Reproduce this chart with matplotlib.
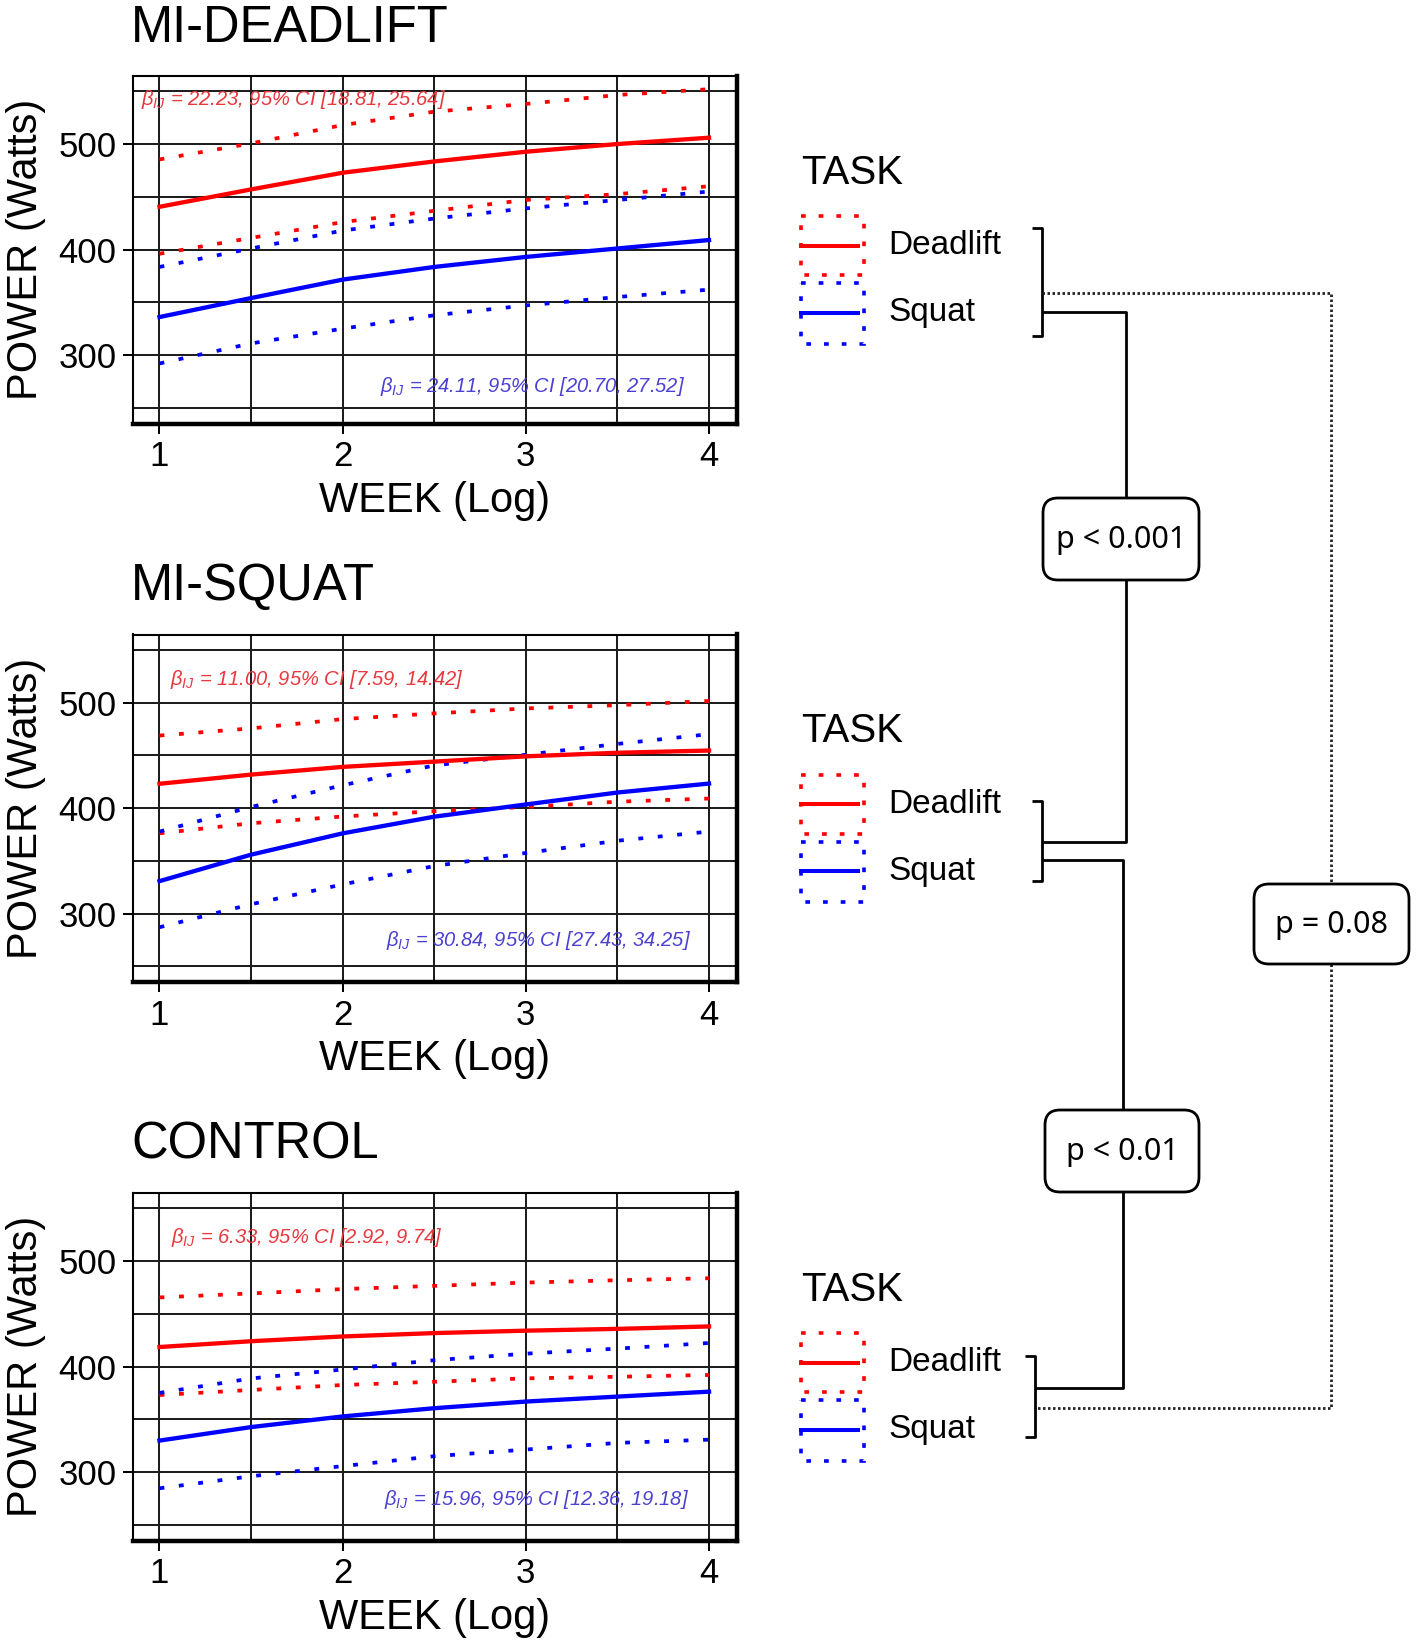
import matplotlib
matplotlib.use("Agg")
import matplotlib.pyplot as plt
from matplotlib.patches import Rectangle, FancyBboxPatch

plt.rcParams["font.family"] = ["Liberation Sans", "DejaVu Sans"]
plt.rcParams["mathtext.fontset"] = "custom"
plt.rcParams["mathtext.it"] = "Liberation Sans:italic"
plt.rcParams["mathtext.rm"] = "Liberation Sans:italic"

# ---- data ----
weeks = [1, 1.5, 2, 2.5, 3, 3.5, 4]

midl_dead_fit = [440.5, 457, 472.8, 483.5, 492.7, 500, 506]
midl_dead_hi = [485.4, 500.6, 518, 530.7, 538, 546.5, 552]
midl_dead_lo = [396, 411, 426, 436.7, 447, 452.5, 460]
midl_squat_fit = [336, 354, 371.5, 383.5, 393, 401, 409]
midl_squat_hi = [383.5, 401, 418, 429.4, 439, 447, 455]
midl_squat_lo = [292, 311, 325, 337.7, 347, 355, 362]

misq_dead_fit = [423, 431.7, 439, 444, 449, 452.4, 454.5]
misq_dead_hi = [468.7, 475.5, 484.3, 489.7, 494.4, 497.5, 501.5]
misq_dead_lo = [376, 385.6, 392, 397, 401, 406, 409]
misq_squat_fit = [330.7, 355.8, 376, 391.8, 403.4, 414.7, 423.2]
misq_squat_hi = [377.7, 401, 421.6, 440.4, 450.5, 460.8, 470]
misq_squat_lo = [287, 308.8, 327.6, 345, 357.4, 369, 377.7]

ctrl_dead_fit = [418.5, 424, 428.5, 431.7, 434, 435.7, 438]
ctrl_dead_hi = [465.5, 469.3, 473.4, 476.5, 479.6, 481.8, 483.7]
ctrl_dead_lo = [373, 377.8, 382.5, 385.6, 388.8, 390.3, 392]
ctrl_squat_fit = [329.8, 342.6, 352.7, 360.5, 366.8, 371.5, 376.2]
ctrl_squat_hi = [375, 388.7, 397.2, 406, 412.2, 417, 422.3]
ctrl_squat_lo = [284.6, 296, 305.6, 315, 321.3, 327.6, 330.7]

panel_titles = ["MI-DEADLIFT", "MI-SQUAT", "CONTROL"]
dead_labels = [
    r"$\beta_{IJ}$ = 22.23, 95% CI [18.81, 25.64]",
    r"$\beta_{IJ}$ = 11.00, 95% CI [7.59, 14.42]",
    r"$\beta_{IJ}$ = 6.33, 95% CI [2.92, 9.74]",
]
squat_labels = [
    r"$\beta_{IJ}$ = 24.11, 95% CI [20.70, 27.52]",
    r"$\beta_{IJ}$ = 30.84, 95% CI [27.43, 34.25]",
    r"$\beta_{IJ}$ = 15.96, 95% CI [12.36, 19.18]",
]
p_labels = ["p < 0.001", "p = 0.08", "p < 0.01"]

panels = [
    (midl_dead_fit, midl_dead_lo, midl_dead_hi, midl_squat_fit, midl_squat_lo, midl_squat_hi),
    (misq_dead_fit, misq_dead_lo, misq_dead_hi, misq_squat_fit, misq_squat_lo, misq_squat_hi),
    (ctrl_dead_fit, ctrl_dead_lo, ctrl_dead_hi, ctrl_squat_fit, ctrl_squat_lo, ctrl_squat_hi),
]

RED, BLUE = "#ff0000", "#0000ff"
RED_TXT, BLUE_TXT = "#e8383e", "#4b40d2"
DOT = (0, (1.3, 3.9))

W, H = 1417, 1650
fig = plt.figure(figsize=(W / 100, H / 100), dpi=100)

ax_left, ax_right, ax_hpx = 133.3, 736.5, 347.6
tops = [76, 634.5, 1193]
# text positions in axes fraction: (x_red, y_red, x_blue, y_blue)
ann_pos = [(0.012, 0.931, 0.914, 0.108), (0.061, 0.871, 0.925, 0.119), (0.063, 0.873, 0.922, 0.119)]

for i, (d_fit, d_lo, d_hi, s_fit, s_lo, s_hi) in enumerate(panels):
    top = tops[i]
    ax = fig.add_axes([ax_left / W, 1 - (top + ax_hpx) / H, (ax_right - ax_left) / W, ax_hpx / H])
    ax.set_xlim(0.857, 4.15)
    ax.set_ylim(235, 564.5)
    ax.set_xticks([1, 2, 3, 4])
    ax.set_xticks([1.5, 2.5, 3.5], minor=True)
    ax.set_yticks([300, 400, 500])
    ax.set_yticks([250, 350, 450, 550], minor=True)
    ax.set_axisbelow(True)
    ax.grid(which="both", color="#1e1e1e", linewidth=1.45)
    ax.tick_params(which="major", length=7, width=1.45, direction="out", labelsize=25, pad=5)
    ax.tick_params(which="minor", length=0)
    for side in ["left", "top"]:
        ax.spines[side].set_linewidth(1.5)
    for side in ["right", "bottom"]:
        ax.spines[side].set_linewidth(3.2)

    ax.plot(weeks, d_hi, color=RED, lw=2.7, linestyle=DOT)
    ax.plot(weeks, d_lo, color=RED, lw=2.7, linestyle=DOT)
    ax.plot(weeks, s_hi, color=BLUE, lw=2.7, linestyle=DOT)
    ax.plot(weeks, s_lo, color=BLUE, lw=2.7, linestyle=DOT)
    ax.plot(weeks, d_fit, color=RED, lw=3.1)
    ax.plot(weeks, s_fit, color=BLUE, lw=3.1)

    xr, yr, xb, yb = ann_pos[i]
    ax.text(xr, yr, dead_labels[i], transform=ax.transAxes, color=RED_TXT, fontsize=14.5,
            fontstyle="italic", ha="left", va="center")
    ax.text(xb, yb, squat_labels[i], transform=ax.transAxes, color=BLUE_TXT, fontsize=14.5,
            fontstyle="italic", ha="right", va="center")

    ax.text(-0.004, 1.098, panel_titles[i], transform=ax.transAxes, fontsize=36.5,
            ha="left", va="baseline")
    ax.set_xlabel("WEEK (Log)", fontsize=30)
    ax.xaxis.set_label_coords(0.5, -0.165)
    ax.set_ylabel("POWER (Watts)", fontsize=30)
    ax.yaxis.set_label_coords(-0.145, 0.5)

# ---- overlay in pixel units for legends and comparison brackets ----
ov = fig.add_axes([0, 0, 1, 1])
ov.set_xlim(0, W)
ov.set_ylim(H, 0)
ov.set_axis_off()

step = 558.5
key_dot = (0, (1.3, 3.6))
for k in range(3):
    dy = k * step
    ov.text(801, 173 + dy, "TASK", fontsize=29, ha="left", va="center")
    ov.add_patch(Rectangle((801, 216.4 + dy), 63, 59, fill=False, ec=RED, lw=2.6, ls=key_dot))
    ov.add_patch(Rectangle((801, 283 + dy), 63, 60.5, fill=False, ec=BLUE, lw=2.6, ls=key_dot))
    ov.plot([801, 858], [245.7 + dy, 245.7 + dy], color=RED, lw=2.9)
    ov.plot([801, 858], [312.5 + dy, 312.5 + dy], color=BLUE, lw=2.9)
    ov.text(888, 245.6 + dy, "Deadlift", fontsize=24, ha="left", va="center")
    ov.text(888, 312.8 + dy, "Squat", fontsize=24, ha="left", va="center")

solid = dict(color="black", lw=2.0, solid_capstyle="butt")
dotted = dict(color="#222222", lw=2.0, linestyle=(0, (0.9, 0.9)))

# brackets
ov.plot([1032, 1042, 1042, 1032], [228, 228, 336, 336], **solid)
ov.plot([1032, 1042, 1042, 1032], [800.5, 800.5, 881, 881], **solid)
ov.plot([1025, 1035, 1035, 1025], [1356, 1356, 1437, 1437], **solid)

# p < 0.001 : MI-DEADLIFT vs MI-SQUAT
ov.plot([1042, 1126, 1126], [312, 312, 498], **solid)
ov.plot([1126, 1126, 1042], [580, 842, 842], **solid)
# p < 0.01 : MI-SQUAT vs CONTROL
ov.plot([1042, 1122.5, 1122.5], [860, 860, 1110], **solid)
ov.plot([1122.5, 1122.5, 1035], [1192, 1388, 1388], **solid)
# p = 0.08 : MI-DEADLIFT vs CONTROL
ov.plot([1042, 1331, 1331], [293, 293, 884], **dotted)
ov.plot([1331, 1331, 1035], [964, 1408, 1408], **dotted)

boxes = [(1043, 498, 156, 82), (1254, 884, 155, 80), (1045, 1110, 154, 82)]
for (bx, by, bw, bh), lab in zip(boxes, p_labels):
    ov.add_patch(FancyBboxPatch((bx, by), bw, bh, boxstyle="round,pad=0,rounding_size=15",
                                fc="white", ec="black", lw=2.0, zorder=3))
    ov.text(bx + bw / 2, by + bh / 2 + 1, lab, fontsize=22, family=["Noto Sans", "DejaVu Sans"],
            ha="center", va="center", zorder=4)

fig.savefig("out.png", dpi=100)
